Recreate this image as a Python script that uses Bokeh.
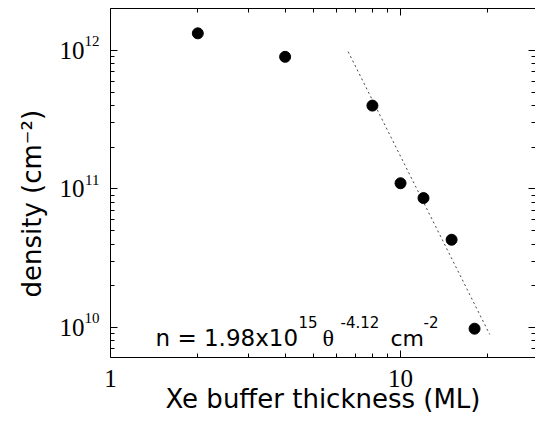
from bokeh.plotting import figure
from bokeh.models import LogAxis, Label, Range1d, FixedTicker, CustomJSTickFormatter, Title
from bokeh.embed import file_html
from bokeh.resources import INLINE

# ---- data ----
thickness = [2, 4, 8, 10, 12, 15, 18]
density = [1.33e12, 9.0e11, 4.0e11, 1.1e11, 8.6e10, 4.3e10, 9.8e9]
fit_x = [6.6, 20.3]
fit_y = [9.8e11, 8.9e9]

x_tick_values = [1, 10]
x_tick_labels = ["1", "10"]
x_minor_ticks = [2, 3, 4, 5, 6, 7, 8, 9, 20]
y_tick_values = [1e10, 1e11, 1e12]
y_tick_base = "10"
y_tick_exponents = ["10", "11", "12"]
y_minor_ticks = [m * 10.0 ** e for e in (9, 10, 11) for m in range(2, 10)]

x_label = "Xe buffer thickness (ML)"
y_label = "density (cm\u207b\u00b2)"
eq_parts = ["n = 1.98x10", "15", "\u03b8", "-4.12", "cm", "-2"]

SANS = "DejaVu Sans"
SERIF = "Liberation Serif"

PX_PER_DECADE = 138.5       # vertical scale of the frame (layout only)
EXP_RAISE_PX = 9            # exponent sits this many pixels above its tick

p = figure(width=535, height=426, x_axis_type="log", y_axis_type="log",
           x_range=Range1d(1, 29.2), y_range=Range1d(6.07e9, 2.01e12),
           output_backend="svg", toolbar_location=None,
           min_border_left=110, min_border_top=8, min_border_right=0,
           min_border_bottom=69)
p.grid.visible = False
p.outline_line_color = None
p.background_fill_color = "white"
p.border_fill_color = "white"

xticker = FixedTicker(ticks=x_tick_values, minor_ticks=x_minor_ticks)
yticker = FixedTicker(ticks=y_tick_values, minor_ticks=y_minor_ticks)
blank = CustomJSTickFormatter(code="return ''")


def tick_style(ax):
    ax.major_tick_in = 7
    ax.major_tick_out = 0
    ax.minor_tick_in = 4
    ax.minor_tick_out = 0
    ax.axis_line_color = "black"
    ax.major_tick_line_color = "black"
    ax.minor_tick_line_color = "black"


def label_only(ax):
    ax.axis_line_color = None
    ax.major_tick_line_color = None
    ax.minor_tick_line_color = None
    ax.major_tick_in = 0
    ax.major_tick_out = 0
    ax.minor_tick_in = 0
    ax.minor_tick_out = 0


# bottom axis
xa = p.xaxis[0]
xa.ticker = xticker
tick_style(xa)
xa.major_label_overrides = {v: t for v, t in zip(x_tick_values, x_tick_labels)}
xa.major_label_text_font = SERIF
xa.major_label_text_font_size = "25px"
xa.major_label_text_color = "black"
xa.major_label_standoff = 12
xa.axis_label = x_label
xa.axis_label_text_font = SANS
xa.axis_label_text_font_size = "26px"
xa.axis_label_text_font_style = "normal"
xa.axis_label_text_color = "black"
xa.axis_label_standoff = -6

# left axis: ticks only
ya = p.yaxis[0]
ya.ticker = yticker
tick_style(ya)
ya.formatter = blank
ya.major_label_standoff = 0
ya.major_label_text_font_size = "0px"

# left: exponents (small, raised), then the "10" bases
exp_positions = [v * 10 ** (EXP_RAISE_PX / PX_PER_DECADE) for v in y_tick_values]
exp_axis = LogAxis(ticker=FixedTicker(ticks=exp_positions, minor_ticks=[]),
                   major_label_overrides={v: e for v, e in zip(exp_positions, y_tick_exponents)},
                   major_label_text_font=SERIF, major_label_text_font_size="15px",
                   major_label_text_color="black", major_label_standoff=11)
label_only(exp_axis)
p.add_layout(exp_axis, "left")

base_axis = LogAxis(ticker=FixedTicker(ticks=y_tick_values, minor_ticks=[]),
                    major_label_overrides={v: y_tick_base for v in y_tick_values},
                    major_label_text_font=SERIF, major_label_text_font_size="25px",
                    major_label_text_color="black", major_label_standoff=-3)
label_only(base_axis)
p.add_layout(base_axis, "left")

# y title on the left, placed like the reference
p.add_layout(Title(text=y_label, align="left", offset=60, standoff=19,
                   text_font=SANS, text_font_size="26px", text_font_style="normal",
                   text_color="black"), "left")

# top and right axes (ticks only)
top = LogAxis(ticker=xticker, formatter=CustomJSTickFormatter(code="return ''"),
              major_label_standoff=0, major_label_text_font_size="0px")
tick_style(top)
p.add_layout(top, "above")
right = LogAxis(ticker=yticker, formatter=CustomJSTickFormatter(code="return ''"),
                major_label_standoff=0, major_label_text_font_size="0px")
tick_style(right)
right.axis_line_color = None
p.add_layout(right, "right")

# data
p.line(fit_x, fit_y, line_dash="2 3", line_color="#444444", line_width=1)
p.scatter(thickness, density, size=11, fill_color="black", line_color="black")

# equation annotation
eq_layout = [(45, -11, "23px", SANS), (188, 5, "15px", SANS), (212, -11, "24px", SERIF),
             (230, 5, "15px", SANS), (280, -11, "22px", SANS), (313, 5, "15px", SANS)]
for t, (dx, dy, fs, fnt) in zip(eq_parts, eq_layout):
    p.add_layout(Label(x=1, y=y_tick_values[0], x_offset=dx, y_offset=dy, text=t,
                       text_align="left", text_baseline="alphabetic",
                       text_font=fnt, text_font_size=fs, text_color="black"))

open("out.html", "w").write(file_html(p, INLINE))
